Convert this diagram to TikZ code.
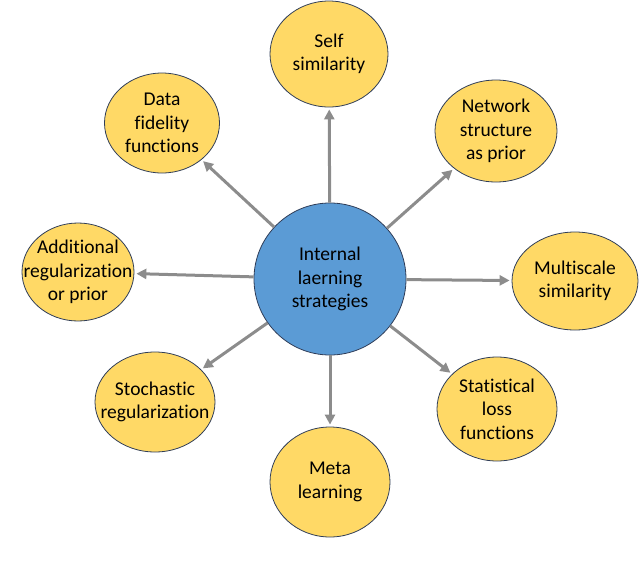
\documentclass[tikz,border=0pt]{standalone}
\usepackage{fontspec}
\setmainfont{Carlito}[Ligatures=NoCommon]
\usetikzlibrary{arrows.meta, shapes.geometric}
\definecolor{leafyellow}{HTML}{FFD966}
\definecolor{hubblue}{HTML}{5B9BD5}
\definecolor{rimnavy}{HTML}{2F3D58}
\definecolor{arrowgray}{HTML}{8C8C8C}

\begin{document}
\begin{tikzpicture}[x=1pt, y=-1pt, every node/.style={font=\fontsize{19.5}{23.5}\selectfont}]

% Styles
\tikzstyle{leaf} = [draw=rimnavy, ellipse, fill=leafyellow, align=center, inner sep=-15pt, line width=0.8pt]
\tikzstyle{hub} = [leaf, circle, fill=hubblue, minimum size=152pt]
\tikzstyle{arrow} = [-{Triangle[length=10pt,width=10pt]}, line width=3pt, draw=arrowgray, shorten >=2pt]

\useasboundingbox (0,0) rectangle (640,568);

% Nodes
\node[hub] (hub) at (330,279) {Internal\\laerning\\strategies};

\node[leaf, minimum width=118pt, minimum height=106pt] (self) at (329,54) {Self\\similarity};
\node[leaf, minimum width=115pt, minimum height=100pt] (fidelity) at (162,123) {Data\\fidelity\\functions};
\node[leaf, minimum width=122pt, minimum height=102pt] (network) at (496,131) {Network\\structure\\as prior};
\node[leaf, minimum width=126pt, minimum height=98pt] (multiscale) at (575,281) {Multiscale\\similarity};
\node[leaf, minimum width=112pt, minimum height=98pt] (additional) at (78,272) {Additional\\regularization\\or prior};
\node[leaf, minimum width=120pt, minimum height=104pt] (statistical) at (497,409) {Statistical\\loss\\functions};
\node[leaf, minimum width=120pt, minimum height=100pt] (stochastic) at (155,402) {Stochastic\\regularization};
\node[leaf, minimum width=120pt, minimum height=110pt] (meta) at (330,482) {Meta\\learning};

% Arrows
\draw[arrow] (hub) -- (self);
\draw[arrow] (hub) -- (fidelity);
\draw[arrow] (hub) -- (network);
\draw[arrow] (hub) -- (multiscale);
\draw[arrow] (hub) -- (additional);
\draw[arrow] (hub) -- (statistical);
\draw[arrow] (hub) -- (stochastic);
\draw[arrow] (hub) -- (meta);

\end{tikzpicture}
\end{document}
